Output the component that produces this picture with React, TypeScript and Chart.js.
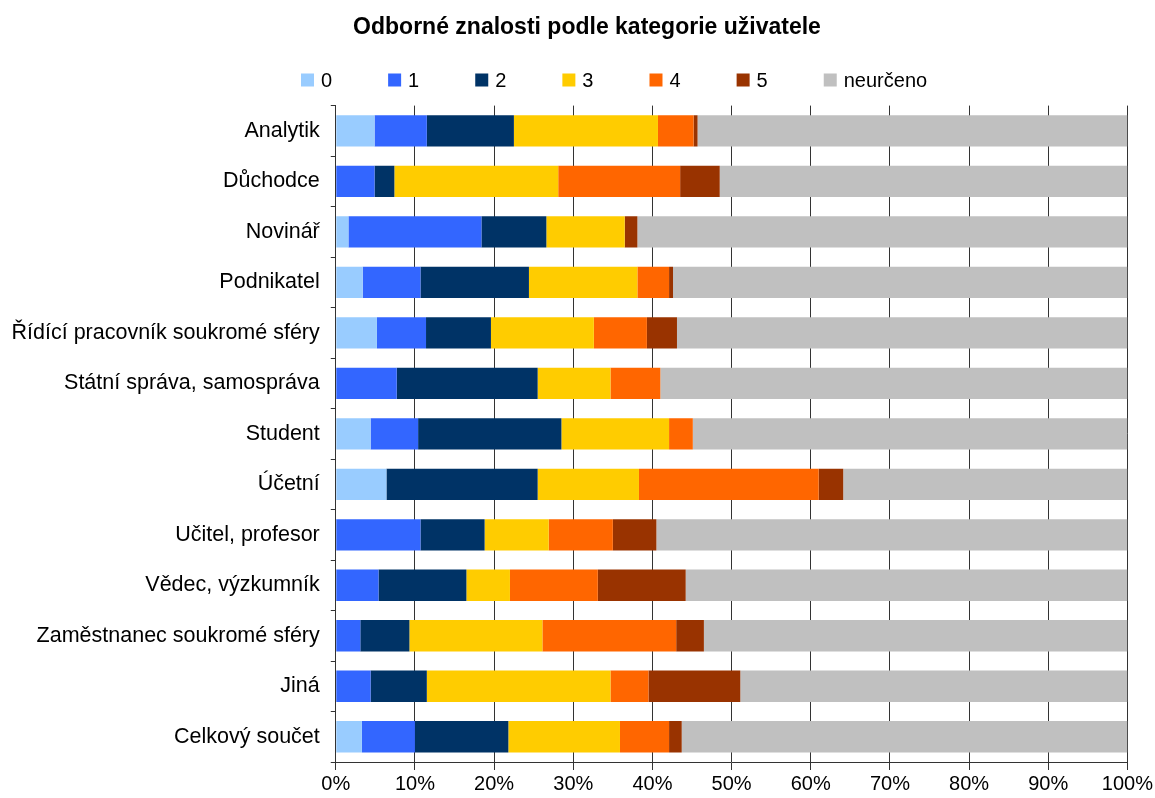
import React, { useEffect, useRef } from "react";
import { Chart, registerables } from "chart.js";

Chart.register(...registerables);

const TITLE = "Odborné znalosti podle kategorie uživatele";

const categories = [
  "Analytik",
  "Důchodce",
  "Novinář",
  "Podnikatel",
  "Řídící pracovník soukromé sféry",
  "Státní správa, samospráva",
  "Student",
  "Účetní",
  "Učitel, profesor",
  "Vědec, výzkumník",
  "Zaměstnanec soukromé sféry",
  "Jiná",
  "Celkový součet",
];

const seriesNames = ["0", "1", "2", "3", "4", "5", "neurčeno"];

const level0 = [4.9, 0, 1.6, 3.4, 5.2, 0, 4.4, 6.4, 0, 0, 0, 0, 3.3];
const level1 = [6.6, 4.9, 16.8, 7.3, 6.2, 7.7, 6.0, 0, 10.7, 5.4, 3.1, 4.4, 6.7];
const level2 = [11.0, 2.5, 8.2, 13.7, 8.2, 17.8, 18.1, 19.1, 8.1, 11.1, 6.2, 7.1, 11.8];
const level3 = [18.2, 20.7, 9.9, 13.7, 13.0, 9.2, 13.6, 12.8, 8.1, 5.5, 16.8, 23.2, 14.1];
const level4 = [4.5, 15.4, 0, 4.0, 6.7, 6.3, 3.0, 22.7, 8.1, 11.1, 16.9, 4.8, 6.2];
const level5 = [0.5, 5.0, 1.6, 0.5, 3.8, 0, 0, 3.1, 5.5, 11.1, 3.5, 11.6, 1.6];
const undetermined = [54.3, 51.5, 61.9, 57.4, 56.9, 59.0, 54.9, 35.9, 59.5, 55.8, 53.5, 48.9, 56.3];

const xTickLabels = ["0%", "10%", "20%", "30%", "40%", "50%", "60%", "70%", "80%", "90%", "100%"];

const colors = ["#99CCFF", "#3366FF", "#003366", "#FFCC00", "#FF6600", "#993300", "#C0C0C0"];

const FONT = "'Liberation Sans', Arial, sans-serif";

const headerPlugin = {
  id: "headerPlugin",
  afterDraw(chart: any) {
    const ctx = chart.ctx;
    ctx.save();
    // title
    ctx.font = `bold 23px ${FONT}`;
    ctx.fillStyle = "#000";
    ctx.textAlign = "center";
    ctx.textBaseline = "middle";
    ctx.fillText(TITLE, 587, 28);
    // legend
    ctx.font = `20px ${FONT}`;
    ctx.textAlign = "left";
    const y = 80;
    const box = 13;
    let x = 301;
    chart.data.datasets.forEach((ds: any) => {
      ctx.fillStyle = ds.backgroundColor;
      ctx.fillRect(x, y - box / 2, box, box);
      ctx.fillStyle = "#000";
      ctx.fillText(ds.label, x + box + 7, y + 1);
      const w = ctx.measureText(ds.label).width;
      x += box + 7 + w + 56;
    });
    ctx.restore();
  },
};

export default function App() {
  const ref = useRef<HTMLCanvasElement | null>(null);

  useEffect(() => {
    if (!ref.current) return;
    const seriesData = [level0, level1, level2, level3, level4, level5, undetermined];
    const chart = new Chart(ref.current, {
      type: "bar",
      data: {
        labels: categories,
        datasets: seriesNames.map((name, i) => ({
          label: name,
          data: seriesData[i],
          backgroundColor: colors[i],
          borderWidth: 0,
          barPercentage: 0.62,
          categoryPercentage: 1,
        })),
      },
      plugins: [headerPlugin],
      options: {
        indexAxis: "y",
        animation: false,
        responsive: true,
        maintainAspectRatio: false,
        layout: { padding: { left: 0.5, right: -5, top: 105.6, bottom: 0 } },
        plugins: {
          title: { display: false },
          legend: { display: false },
          tooltip: { enabled: false },
        },
        scales: {
          x: {
            stacked: true,
            min: 0,
            max: 100,
            ticks: {
              stepSize: 10,
              color: "#000",
              font: { family: FONT, size: 20 },
              padding: 2,
              callback: (_v: any, idx: number) => xTickLabels[idx],
            },
            grid: {
              display: true,
              drawOnChartArea: true,
              color: "#333333",
              lineWidth: 1,
              borderDash: [9, 14],
              tickBorderDash: [],
              tickLength: 8,
              tickColor: "#333333",
            },
            border: { display: true, color: "#333333", width: 1 },
          },
          y: {
            stacked: true,
            ticks: {
              color: "#000",
              font: { family: FONT, size: 21.5 },
              padding: 11,
            },
            grid: {
              display: true,
              drawOnChartArea: false,
              drawTicks: true,
              tickLength: 5,
              tickColor: "#333333",
              offset: true,
            },
            border: { display: true, color: "#333333", width: 1 },
          },
        },
      },
    });
    return () => chart.destroy();
  }, []);

  return (
    <div style={{ position: "fixed", left: 0, top: 0, width: 1155, height: 798, background: "#fff" }}>
      <canvas ref={ref} />
    </div>
  );
}
